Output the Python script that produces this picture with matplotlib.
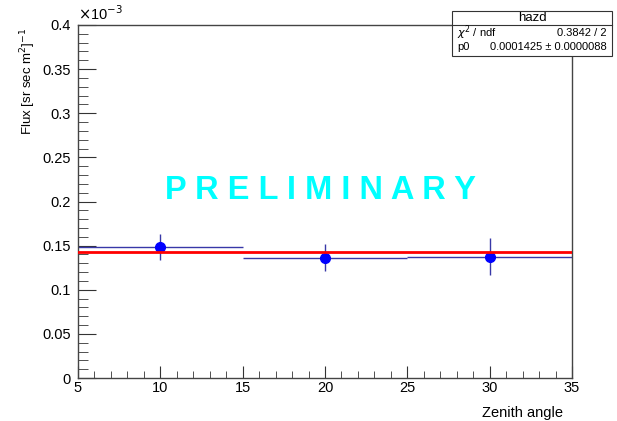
import numpy as np
import matplotlib.pyplot as plt
from matplotlib.ticker import MultipleLocator

plt.rcParams['font.family'] = ['Liberation Sans', 'DejaVu Sans']

# flux per zenith bin (units of 1e-3)
zenith = [10, 20, 30]
zenith_err = [5, 5, 5]
flux = [0.1486, 0.1364, 0.1376]
flux_err = [0.0146, 0.0154, 0.0210]
p0 = 0.1425

fig = plt.figure(figsize=(6.17, 4.21), dpi=100)
ax = fig.add_axes([78/617, 43/421, 494/617, 353/421])

ax.errorbar(zenith, flux, xerr=zenith_err, yerr=flux_err, fmt='none',
            ecolor='#3838a8', elinewidth=1.0, capsize=0, zorder=2)
ax.plot(zenith, flux, 'o', color='#0000ff', ms=7, zorder=3)
ax.plot([5, 35], [p0, p0], color='#ff0000', lw=2, zorder=4)

ax.set_xlim(5, 35)
ax.set_ylim(0, 0.4)
ax.xaxis.set_major_locator(MultipleLocator(5))
ax.xaxis.set_minor_locator(MultipleLocator(1))
ax.yaxis.set_major_locator(MultipleLocator(0.05))
ax.yaxis.set_minor_locator(MultipleLocator(0.01))
ax.set_yticks(np.arange(0, 0.41, 0.05))
ax.set_yticklabels(['0', '0.05', '0.1', '0.15', '0.2', '0.25', '0.3', '0.35', '0.4'])
ax.tick_params(axis='both', which='both', direction='in', top=False, right=False,
               labelsize=10.5, color='#333333')
ax.tick_params(axis='y', which='major', length=13, pad=5)
ax.tick_params(axis='y', which='minor', length=7)
ax.tick_params(axis='x', which='major', length=9, pad=2)
ax.tick_params(axis='x', which='minor', length=5)
for s in ax.spines.values():
    s.set_color('#444444')
    s.set_linewidth(1)

ax.text(0.0, 1.005, r'$\times$10$^{-3}$', transform=ax.transAxes, fontsize=10.5,
        ha='left', va='bottom')
fig.text(28/617, 1 - 28/421, r'Flux [sr sec m$^{2}$]$^{-1}$', fontsize=9.5,
         rotation=90, ha='center', va='top')
fig.text(563/617, 1 - 413/421, 'Zenith angle', fontsize=10.5, ha='right', va='center')

ax.text(19.75, 0.213, 'P R E L I M I N A R Y', color='#00ffff', fontsize=23.5,
        fontweight='bold', ha='center', va='center')

# stats box
bx0, bx1 = 452/617, 612/617
by0, by1, bh = 1 - 56/421, 1 - 11/421, 1 - 25/421
fig.patches.append(plt.Rectangle((bx0, by0), bx1 - bx0, by1 - by0, transform=fig.transFigure,
                                 facecolor='white', edgecolor='#333333', lw=0.8, zorder=5))
fig.lines.append(plt.Line2D([bx0, bx1], [bh, bh], transform=fig.transFigure,
                            color='#333333', lw=0.8, zorder=6))
fig.text((bx0 + bx1) / 2, (by1 + bh) / 2, 'hazd', ha='center', va='center', fontsize=9.5, zorder=7)
fig.text(bx0 + 0.008, 1 - 33/421, r'$\chi^{2}$ / ndf', ha='left', va='center', fontsize=8, zorder=7)
fig.text(bx1 - 0.008, 1 - 33/421, '0.3842 / 2', ha='right', va='center', fontsize=8, zorder=7)
fig.text(bx0 + 0.008, 1 - 47/421, 'p0', ha='left', va='center', fontsize=8, zorder=7)
fig.text(bx1 - 0.008, 1 - 47/421, '0.0001425 \u00b1 0.0000088', ha='right', va='center',
         fontsize=8, zorder=7)

fig.savefig('out.png', dpi=100)
